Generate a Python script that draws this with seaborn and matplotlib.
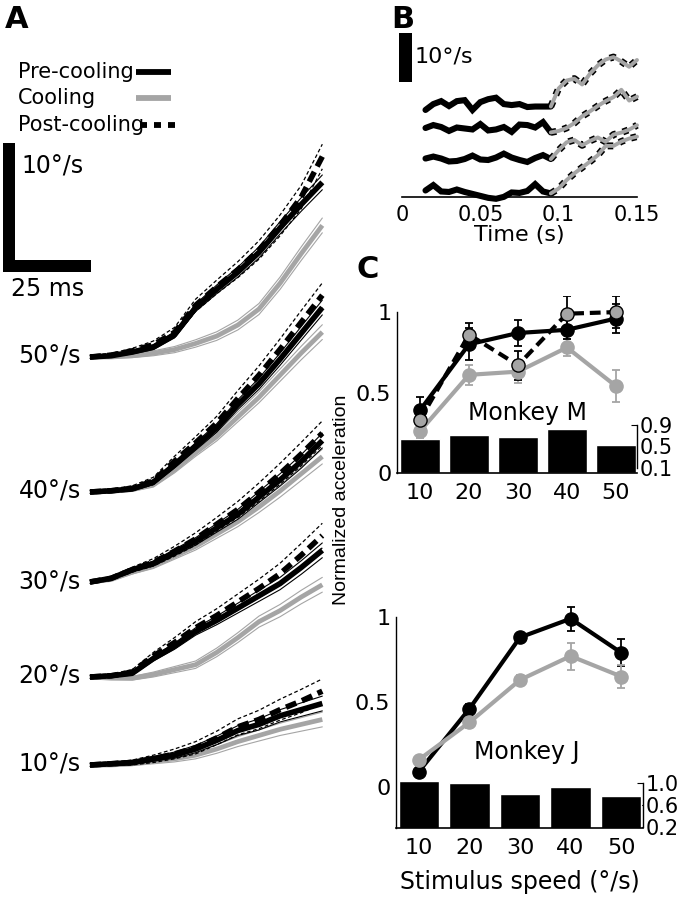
import numpy as np
import matplotlib
matplotlib.use("Agg")
import matplotlib.pyplot as plt
import seaborn as sns
import pandas as pd
from matplotlib.lines import Line2D
from matplotlib.patches import Rectangle

sns.set_style("white")
plt.rcParams['font.family'] = ['DejaVu Sans']
plt.rcParams['font.size'] = 15
for k in ["text.color", "axes.labelcolor", "xtick.color", "ytick.color", "axes.edgecolor"]:
    plt.rcParams[k] = "black"

# ---------------- Panel A data (eye velocity, deg/s above each baseline) ----------
a_speed_labels = ["50°/s", "40°/s", "30°/s", "20°/s", "10°/s"]
a_time_ms = [0, 6, 12, 18, 24, 30, 36, 42, 48, 54, 60, 66]
a_pre = [
    [0, 0.1, 0.4, 0.8, 1.8, 4.0, 5.5, 6.9, 8.5, 10.5, 12.4, 14.2],
    [0, 0.1, 0.25, 0.8, 2.2, 3.7, 5.2, 7.1, 8.8, 10.8, 12.9, 15.0],
    [0, 0.3, 1.0, 1.5, 2.4, 3.3, 4.4, 5.5, 6.9, 8.3, 9.8, 11.5],
    [0, 0.1, 0.3, 1.5, 2.5, 3.7, 4.6, 5.6, 6.6, 7.6, 8.9, 10.3],
    [0, 0.1, 0.2, 0.5, 0.8, 1.3, 2.0, 2.8, 3.3, 4.0, 4.5, 5.0],
]
a_cool = [
    [0, 0.0, 0.1, 0.3, 0.6, 1.1, 1.7, 2.6, 3.9, 6.0, 8.4, 10.7],
    [0, 0.05, 0.2, 0.6, 1.8, 3.2, 4.5, 6.1, 7.7, 9.5, 11.3, 13.0],
    [0, 0.2, 0.8, 1.3, 2.1, 2.9, 3.9, 4.9, 6.1, 7.4, 8.8, 10.2],
    [0, -0.1, -0.1, 0.2, 0.6, 1.0, 2.0, 3.2, 4.5, 5.4, 6.5, 7.5],
    [0, 0.0, 0.1, 0.3, 0.5, 0.8, 1.3, 1.9, 2.4, 2.9, 3.3, 3.7],
]
a_post = [
    [0, 0.15, 0.5, 1.0, 2.0, 4.2, 5.7, 7.1, 8.7, 10.7, 13.0, 16.3],
    [0, 0.1, 0.3, 0.9, 2.5, 4.0, 5.6, 7.6, 9.5, 11.6, 13.8, 16.0],
    [0, 0.3, 1.0, 1.6, 2.5, 3.5, 4.7, 5.9, 7.3, 8.8, 10.4, 12.1],
    [0, 0.1, 0.4, 1.7, 2.8, 4.0, 5.0, 6.1, 7.2, 8.4, 9.9, 11.5],
    [0, 0.1, 0.2, 0.5, 0.9, 1.4, 2.2, 3.1, 3.7, 4.5, 5.2, 6.0],
]
a_sem_pre = [0.1, 0.1, 0.15, 0.2, 0.25, 0.3, 0.35, 0.4, 0.45, 0.5, 0.55, 0.6]
a_sem_cool = [0.1, 0.1, 0.15, 0.2, 0.25, 0.3, 0.35, 0.4, 0.45, 0.5, 0.55, 0.6]
a_sem_post = [0.15, 0.15, 0.2, 0.3, 0.4, 0.5, 0.55, 0.65, 0.75, 0.85, 0.95, 1.0]
a_scale_speed = 10   # deg/s
a_scale_time = 25    # ms

# ---------------- Panel B data ----------------
b_time_pre = [0.015, 0.020, 0.025, 0.030, 0.035, 0.040, 0.045, 0.050, 0.055,
              0.060, 0.065, 0.070, 0.075, 0.080, 0.085, 0.090, 0.095]
b_time_post = [0.095, 0.100, 0.105, 0.110, 0.115, 0.120, 0.125, 0.130,
               0.135, 0.140, 0.145, 0.150]
b_pre = [
    [-0.4, 0.8, 1.4, 0.4, 1.4, 1.6, -0.4, 1.2, 1.8, 2.1, 0.8, 0.6, 0.8, 0.2, 0.3, 0.3, 0.3],
    [0.0, 0.6, 0.2, -0.6, 0.1, -0.1, -0.3, 0.8, -0.5, -0.3, 0.2, -0.8, 0.7, 0.6, 0.1, 1.2, -0.9],
    [0.3, 0.7, 0.3, -0.3, -0.2, 0.2, 0.9, 0.1, 0.0, 0.5, 1.3, 0.5, 0.0, -0.4, 0.4, 1.0, 0.2],
    [-0.1, 1.0, -0.3, -0.4, 0.1, -0.4, -0.8, -1.2, -1.6, -1.8, -1.4, -0.5, -0.6, -0.2, 1.2, -0.3, -0.7],
]
b_post = [
    [0.3, 4.0, 5.6, 6.0, 4.8, 7.0, 8.7, 9.9, 10.4, 9.5, 8.4, 9.8],
    [-0.9, -0.6, 0.0, 1.0, 2.4, 3.4, 4.5, 5.5, 6.3, 7.8, 5.6, 6.4],
    [0.2, 2.0, 3.6, 4.1, 3.0, 3.9, 4.6, 3.7, 5.2, 5.6, 6.2, 7.1],
    [-0.7, 0.3, 2.0, 3.4, 4.6, 5.8, 7.1, 9.0, 9.0, 9.9, 10.5, 10.9],
]
b_xticks = [0, 0.05, 0.1, 0.15]
b_xticklabels = ["0", "0.05", "0.1", "0.15"]
b_scale_speed = 10

# ---------------- Panel C data ----------------
c_speeds = ["10", "20", "30", "40", "50"]
m_pre = [0.39, 0.80, 0.87, 0.89, 0.96]
m_pre_err = [0.08, 0.10, 0.08, 0.06, 0.09]
m_cool = [0.26, 0.61, 0.63, 0.78, 0.54]
m_cool_err = [0.04, 0.06, 0.07, 0.05, 0.10]
m_post = [0.33, 0.86, 0.67, 0.99, 1.00]
m_post_err = [0.06, 0.07, 0.09, 0.11, 0.10]
m_bars = [0.63, 0.71, 0.67, 0.82, 0.52]

j_pre = [0.09, 0.46, 0.88, 0.99, 0.79]
j_pre_err = [0.02, 0.03, 0.02, 0.07, 0.08]
j_cool = [0.16, 0.38, 0.63, 0.77, 0.65]
j_cool_err = [0.02, 0.03, 0.03, 0.08, 0.07]
j_bars = [1.04, 1.00, 0.80, 0.93, 0.77]

# ---------------- layout helpers ----------------
W, H = 682, 900
fig = plt.figure(figsize=(W / 100, H / 100), dpi=100)


def rect(l, t, r, b):
    return [l / W, 1 - b / H, (r - l) / W, (b - t) / H]


def fx(x):
    return x / W


def fy(y):
    return 1 - y / H


BLACK = "black"
GRAY = "#a5a5a5"

# ================= Panel A =================
A_PX_MS = 3.52
A_PX_DEG = 12.3
A_X0 = 90
ax_a = fig.add_axes(rect(0, 0, 340, 900))
ax_a.set_xlim(-A_X0 / A_PX_MS, (340 - A_X0) / A_PX_MS)
ax_a.set_ylim(0, H / A_PX_DEG)
ax_a.axis("off")
a_base_px = [357, 492, 582, 677, 765]
t = np.array(a_time_ms)
thin = 0.8
for i, lab in enumerate(a_speed_labels):
    base = (H - a_base_px[i]) / A_PX_DEG
    cool = base + np.array(a_cool[i])
    pre = base + np.array(a_pre[i])
    post = base + np.array(a_post[i])
    sc, sp, so = np.array(a_sem_cool), np.array(a_sem_pre), np.array(a_sem_post)
    # cooling
    ax_a.plot(t, cool + sc, color=GRAY, lw=thin)
    ax_a.plot(t, cool - sc, color=GRAY, lw=thin)
    ax_a.plot(t, cool, color=GRAY, lw=3.4, solid_capstyle="butt")
    # pre-cooling
    ax_a.plot(t, pre + sp, color=BLACK, lw=thin)
    ax_a.plot(t, pre - sp, color=BLACK, lw=thin)
    ax_a.plot(t, pre, color=BLACK, lw=4.0, solid_capstyle="butt")
    # post-cooling
    ax_a.plot(t, post + so, color=BLACK, lw=0.9, dashes=(3, 2))
    ax_a.plot(t, post - so, color=BLACK, lw=0.9, dashes=(3, 2))
    ax_a.plot(t, post, color=BLACK, lw=4.0, dashes=(2.0, 1.1))
    ax_a.text((81 - A_X0) / A_PX_MS, base, lab, ha="right", va="center", fontsize=17)

# scale bar A
thick_t = 12 / A_PX_MS
thick_v = 12 / A_PX_DEG
sx0 = (3 - A_X0) / A_PX_MS
sy0 = (H - 272) / A_PX_DEG
ax_a.add_patch(Rectangle((sx0, sy0), a_scale_time, thick_v, color=BLACK, lw=0))
ax_a.add_patch(Rectangle((sx0, sy0), thick_t, a_scale_speed + thick_v / 2, color=BLACK, lw=0))
fig.text(fx(21), fy(167), "10°/s", ha="left", va="center", fontsize=17)
fig.text(fx(48), fy(289), "25 ms", ha="center", va="center", fontsize=17)

# legend A
fig.text(fx(18), fy(72), "Pre-cooling", ha="left", va="center", fontsize=15)
fig.text(fx(18), fy(98), "Cooling", ha="left", va="center", fontsize=15)
fig.text(fx(18), fy(125), "Post-cooling", ha="left", va="center", fontsize=15)
fig.add_artist(Line2D([fx(136), fx(171)], [fy(72), fy(72)], color=BLACK, lw=4.2,
                      solid_capstyle="butt"))
fig.add_artist(Line2D([fx(136), fx(171)], [fy(98), fy(98)], color=GRAY, lw=4.2,
                      solid_capstyle="butt"))
fig.add_artist(Line2D([fx(140), fx(176)], [fy(125), fy(125)], color=BLACK, lw=4.2,
                      dashes=(1.2, 1.2)))

# ================= Panel B =================
B_PX_DEG = 4.9
ax_b = fig.add_axes(rect(402, 25, 637, 197))
ax_b.set_xlim(0, 0.15)
ax_b.set_ylim(0, 172 / B_PX_DEG)
b_base_px = [108, 128, 160, 190]
for i in range(4):
    base = (197 - b_base_px[i]) / B_PX_DEG
    ax_b.plot(b_time_pre, base + np.array(b_pre[i]), color=BLACK, lw=4.4,
              solid_joinstyle="miter", clip_on=False)
    yy = base + np.array(b_post[i])
    ax_b.plot(b_time_post, yy, color=BLACK, lw=5.0, dashes=(0.8, 1.0), clip_on=False)
    ax_b.plot(b_time_post, yy, color=GRAY, lw=2.8, clip_on=False)
ax_b.add_patch(Rectangle(((399 - 402) / 1560, (197 - 82) / B_PX_DEG), 13 / 1560,
                         b_scale_speed, color=BLACK, lw=0, clip_on=False))
fig.text(fx(415), fy(57), "10°/s", ha="left", va="center", fontsize=16)
for s in ["top", "right", "left"]:
    ax_b.spines[s].set_visible(False)
ax_b.spines["bottom"].set_linewidth(1.2)
ax_b.set_yticks([])
ax_b.set_xticks(b_xticks)
ax_b.set_xticklabels(b_xticklabels, fontsize=15)
ax_b.tick_params(axis="x", direction="in", length=3, pad=6)
ax_b.set_xlabel("Time (s)", fontsize=16, labelpad=0)

# ================= Panel C =================
def panel_c(rc, ylim_line, xlim, ylim_bar, bars, bar_ticks, bar_labels, bar_bounds,
            series, label, label_xy, left_bounds, xlabel=None):
    ax_bar = fig.add_axes(rc)
    df = pd.DataFrame({"speed": c_speeds, "ratio": bars})
    sns.barplot(data=df, x="speed", y="ratio", color=BLACK, saturation=1,
                width=0.8, errorbar=None, ax=ax_bar)
    ax_bar.set_xlim(*xlim)
    ax_bar.set_ylim(*ylim_bar)
    for s in ["top", "left", "bottom"]:
        ax_bar.spines[s].set_visible(False)
    ax_bar.spines["right"].set_visible(True)
    ax_bar.spines["right"].set_bounds(*bar_bounds)
    ax_bar.spines["right"].set_linewidth(1.0)
    ax_bar.yaxis.tick_right()
    ax_bar.set_yticks(bar_ticks)
    ax_bar.set_yticklabels(bar_labels, fontsize=15)
    ax_bar.tick_params(axis="y", direction="in", length=4, pad=2, right=True, left=False)
    ax_bar.tick_params(axis="x", bottom=False, labelbottom=False)
    ax_bar.set_xlabel("")
    ax_bar.set_ylabel("")
    ax_bar.patch.set_alpha(0)

    ax = fig.add_axes(rc)
    ax.patch.set_alpha(0)
    x = np.arange(len(c_speeds))
    for vals, errs, color, mfc, ls in series:
        ax.errorbar(x, vals, yerr=errs, fmt="none", ecolor=color, elinewidth=1.3,
                    capsize=3, capthick=1.3, zorder=2)
        kw = dict(color=color, lw=3.0, marker="o", ms=9.5, mfc=mfc,
                  mec=BLACK if mfc != GRAY or ls != "-" else GRAY, mew=1.0, zorder=3)
        if ls == "--":
            kw["dashes"] = (2.6, 1.4)
        ax.plot(x, vals, **kw)
    ax.set_xlim(*xlim)
    ax.set_ylim(*ylim_line)
    ax.spines["top"].set_visible(False)
    ax.spines["right"].set_visible(False)
    ax.spines["left"].set_bounds(*left_bounds)
    ax.spines["left"].set_linewidth(1.0)
    ax.spines["bottom"].set_linewidth(1.2)
    ax.set_xticks(x)
    ax.set_xticklabels(c_speeds, fontsize=16)
    ax.set_yticks([0, 0.5, 1])
    ax.set_yticklabels(["0", "0.5", "1"], fontsize=16)
    ax.tick_params(axis="both", direction="in", length=3, pad=4)
    ax.tick_params(axis="x", length=0, pad=7)
    ax.text(label_xy[0], label_xy[1], label, ha="center", va="center", fontsize=17)
    if xlabel:
        ax.set_xlabel(xlabel, fontsize=17, labelpad=9)
    return ax


panel_c(rect(397, 296, 637, 473), (0, 1.1), (-0.47, 4.43), (0, 178 / 53.7),
        m_bars, [0.1, 0.5, 0.9], ["0.1", "0.5", "0.9"], (0.1, 0.9),
        [(m_cool, m_cool_err, GRAY, GRAY, "-"),
         (m_pre, m_pre_err, BLACK, BLACK, "-"),
         (m_post, m_post_err, BLACK, GRAY, "--")],
        "Monkey M", (2.19, 0.373), (0, 1))

panel_c(rect(396, 600, 643, 828), (-41 / 170, 1.1), (-0.45, 4.43),
        (0.2 - 1 / 55, 0.2 - 1 / 55 + 228 / 55),
        j_bars, [0.2, 0.6, 1.0], ["0.2", "0.6", "1.0"], (0.2, 1.0),
        [(j_pre, j_pre_err, BLACK, BLACK, "-"),
         (j_cool, j_cool_err, GRAY, GRAY, "-")],
        "Monkey J", (2.13, 0.206), (-41 / 170, 1), xlabel="Stimulus speed (°/s)")

fig.text(fx(341), fy(500), "Normalized acceleration", rotation=90, ha="center",
         va="center", fontsize=14, family=["Liberation Sans", "DejaVu Sans"])

# panel letters
fig.text(fx(5), fy(20), "A", ha="left", va="center", fontsize=22, fontweight="bold")
fig.text(fx(391), fy(20), "B", ha="left", va="center", fontsize=22, fontweight="bold")
fig.text(fx(357), fy(270), "C", ha="left", va="center", fontsize=22, fontweight="bold")

fig.savefig("out.png", dpi=100)
